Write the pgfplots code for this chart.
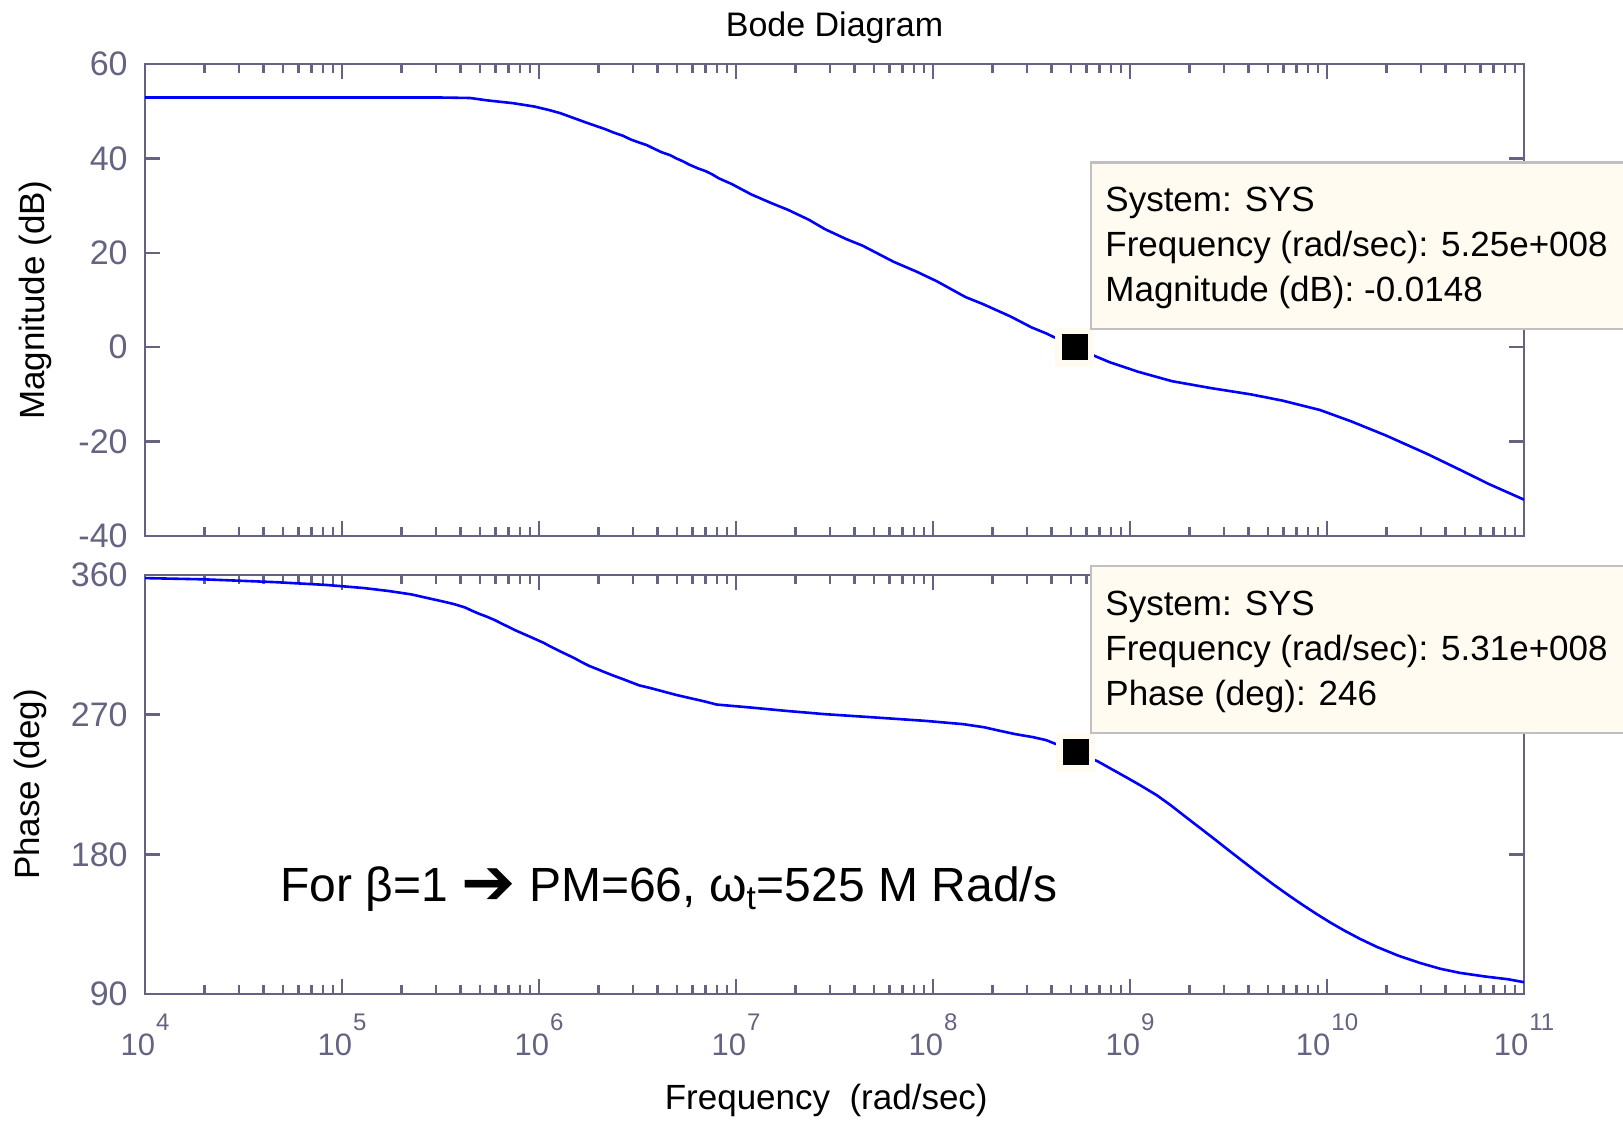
\documentclass[border=0pt]{standalone}
\usepackage{fontspec}
\setmainfont{Liberation Sans}
\newfontfamily\dejavu{DejaVu Sans}
\usepackage{graphicx}
\usepackage{pgfplots}
\usepackage{pgfplotstable}
\pgfplotsset{compat=1.18}
\definecolor{axgray}{RGB}{100,100,130}
\definecolor{tipfill}{RGB}{255,251,240}
\definecolor{tipedge}{RGB}{192,192,192}

\pgfplotstableread{
lf db
4.000 52.9
5.500 52.9
5.650 52.8
5.736 52.3
5.868 51.7
5.975 51.0
6.046 50.3
6.107 49.6
6.239 47.6
6.336 46.2
6.377 45.5
6.426 44.8
6.466 44.0
6.506 43.4
6.548 42.8
6.582 42.1
6.623 41.3
6.665 40.7
6.697 40.0
6.730 39.4
6.762 38.7
6.806 37.9
6.846 37.3
6.880 36.6
6.912 35.8
6.944 35.2
6.977 34.6
7.076 32.4
7.181 30.5
7.264 29.1
7.370 27.0
7.452 25.0
7.560 22.9
7.643 21.5
7.800 18.1
7.917 16.0
8.018 14.0
8.166 10.6
8.250 9.2
8.394 6.5
8.500 4.2
8.576 2.9
8.720 -0.0148
8.812 -1.7
8.898 -3.2
9.041 -5.2
9.213 -7.2
9.416 -8.7
9.614 -10.0
9.772 -11.3
9.964 -13.3
10.122 -15.7
10.299 -18.7
10.508 -22.6
10.701 -26.5
10.822 -29.0
11.000 -32.3
}\magtable

\pgfplotstableread{
lf ph
4.000 358.0
4.300 357.2
4.660 355.4
4.920 353.6
5.110 351.6
5.236 349.7
5.352 347.5
5.432 345.2
5.500 343.3
5.567 341.3
5.624 339.1
5.663 336.8
5.698 334.9
5.738 333.0
5.778 330.8
5.812 328.6
5.846 326.5
5.876 324.6
5.915 322.4
5.953 320.3
5.990 318.2
6.025 316.2
6.057 314.0
6.090 311.9
6.124 309.8
6.157 307.8
6.190 305.7
6.222 303.5
6.255 301.4
6.293 299.5
6.335 297.3
6.377 295.2
6.424 293.0
6.467 290.9
6.508 288.9
6.564 287.2
6.632 284.9
6.697 282.7
6.762 280.8
6.828 278.9
6.903 276.5
7.075 274.6
7.266 272.3
7.454 270.3
7.706 268.2
7.962 266.0
8.152 263.9
8.259 261.9
8.332 259.8
8.416 257.5
8.508 255.5
8.574 253.6
8.725 246.0
8.838 239.8
8.904 235.1
8.990 229.0
9.056 224.2
9.137 218.0
9.208 211.5
9.294 203.0
9.376 195.0
9.437 189.0
9.497 183.0
9.563 176.5
9.645 168.5
9.731 160.3
9.812 153.0
9.878 147.3
9.944 141.8
10.015 136.2
10.086 131.0
10.168 125.5
10.254 120.3
10.360 114.8
10.472 110.0
10.574 106.3
10.675 103.6
10.807 101.2
10.919 99.5
11.000 97.6
}\phtable

\newcommand\tl[1]{10\hspace{0.5pt}\raisebox{12.5pt}{\fontsize{12}{12}\selectfont #1}}

\pgfplotsset{bode/.style={
  scale only axis, width=689.5pt, anchor=south west,
  xmin=1e4, xmax=1e11,
  xtick={1e4,1e5,1e6,1e7,1e8,1e9,1e10,1e11},
  axis line style={draw=axgray, line width=1.2pt},
  tick style={draw=axgray, line width=1.2pt},
  major tick length=7.5pt, minor tick length=4.5pt,
  tick align=inside, tick pos=both,
  yticklabel style={font=\fontsize{17}{17}\selectfont, text=axgray, inner sep=0pt, xshift=-8.5pt},
  xticklabel style={font=\fontsize{15.5}{15.5}\selectfont, text=axgray, inner sep=0pt, anchor=base, yshift=-30.5pt},
}}

\begin{document}
\begin{tikzpicture}
\useasboundingbox (0,0) rectangle (811.5pt,560pt);

\begin{semilogxaxis}[bode, at={(72.5pt,292pt)}, height=236pt,
  ymin=-40, ymax=60, ytick={-40,-20,0,20,40,60},
  yticklabels={-40,-20,0,20,40,60}, xticklabels={},
  every axis y label/.style={at={(axis description cs:-0.0798,0.5)}, rotate=90, anchor=center, font=\fontsize{17.5}{17.5}\selectfont},
  ylabel={Magnitude (dB)},
  every axis title/.style={at={(axis description cs:0.5,1.076)}, anchor=center, font=\fontsize{17}{17}\selectfont},
  title={Bode Diagram}]
\addplot[blue, line width=1.3pt] table[x expr=10^\thisrow{lf}, y=db] {\magtable};
\addplot[tipfill, only marks, mark=square*, mark size=9.5pt] coordinates {(5.25e8,-0.0148)};
\addplot[black, only marks, mark=square*, mark size=6.25pt] coordinates {(5.25e8,-0.0148)};
\end{semilogxaxis}

\begin{semilogxaxis}[bode, at={(72.5pt,63pt)}, height=209.5pt,
  ymin=90, ymax=360, ytick={90,180,270,360},
  yticklabels={90,180,270,360},
  xticklabels={\tl{4},\tl{5},\tl{6},\tl{7},\tl{8},\tl{9},\tl{10},\tl{11}},
  every axis y label/.style={at={(axis description cs:-0.0834,0.5)}, rotate=90, anchor=center, font=\fontsize{17.5}{17.5}\selectfont},
  ylabel={Phase (deg)},
  every axis x label/.style={at={(axis description cs:0.494,-0.253)}, anchor=center, font=\fontsize{17.5}{17.5}\selectfont},
  xlabel={Frequency\ \ (rad/sec)}]
\addplot[blue, line width=1.3pt] table[x expr=10^\thisrow{lf}, y=ph] {\phtable};
\addplot[tipfill, only marks, mark=square*, mark size=9.5pt] coordinates {(5.31e8,246)};
\addplot[black, only marks, mark=square*, mark size=6.25pt] coordinates {(5.31e8,246)};
\end{semilogxaxis}

% data tips
\filldraw[fill=tipfill, draw=tipedge, line width=1.3pt] (545.5pt,395.5pt) rectangle (816pt,478.6pt);
\filldraw[fill=tipfill, draw=tipedge, line width=1.3pt] (545.5pt,193.5pt) rectangle (816pt,277pt);
\begin{scope}[every node/.style={anchor=base west, inner sep=0pt, font=\fontsize{17.5}{17.5}\selectfont}]
\node at (552.5pt,454.2pt) {System: SYS};
\node at (552.5pt,431.7pt) {Frequency (rad/sec): 5.25e+008};
\node at (552.5pt,409.2pt) {Magnitude (dB): -0.0148};
\node at (552.5pt,252.2pt) {System: SYS};
\node at (552.5pt,229.7pt) {Frequency (rad/sec): 5.31e+008};
\node at (552.5pt,207.2pt) {Phase (deg): 246};
\end{scope}

\node[anchor=base west, inner sep=0pt, font=\fontsize{24}{24}\selectfont] at (140pt,109pt)
  {For β=1 \raisebox{-1.5pt}{\scalebox{1.35}{\dejavu\bfseries ➔}} PM=66, ω\textsubscript{t}=525 M Rad/s};
\end{tikzpicture}
\end{document}
